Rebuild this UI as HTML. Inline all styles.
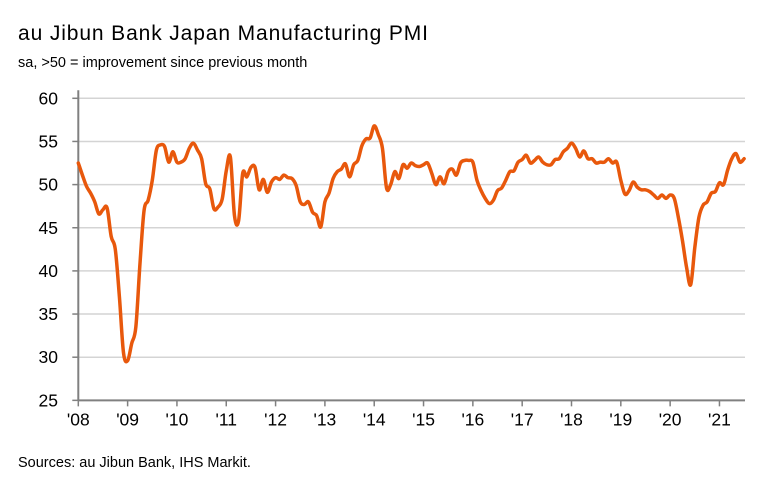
<!DOCTYPE html>
<html><head><meta charset="utf-8"><style>
body{margin:0;background:#fff;width:775px;height:485px;overflow:hidden;font-family:"Liberation Sans",sans-serif}
</style></head><body>
<svg id="chart" width="775" height="485">
<text x="18" y="40" font-size="21" fill="#000" textLength="410">au Jibun Bank Japan Manufacturing PMI</text>
<text x="18" y="67" font-size="14.5" fill="#000">sa, &gt;50 = improvement since previous month</text>
<text x="18" y="467" font-size="14.5" fill="#000">Sources: au Jibun Bank, IHS Markit.</text>
<g id="grid"></g><g id="axes"></g><g id="series"></g>
</svg>
<script>
const yTicks=[25,30,35,40,45,50,55,60];
const xLabels=["'08","'09","'10","'11","'12","'13","'14","'15","'16","'17","'18","'19","'20","'21"];
const pmi=[52.5,51.1,49.8,49.0,48.0,46.6,47.1,47.3,44.0,42.5,37.0,30.5,
29.6,31.6,33.5,40.8,47.0,48.2,50.5,54.0,54.6,54.4,52.6,53.8,
52.6,52.6,53.0,54.2,54.8,54.0,53.0,50.1,49.5,47.2,47.4,48.3,
51.6,53.2,46.4,45.8,51.3,50.9,52.0,52.0,49.4,50.6,49.1,50.3,
50.8,50.6,51.1,50.8,50.7,49.9,48.0,47.7,48.0,46.8,46.4,45.1,
48.0,49.0,50.7,51.5,51.8,52.4,50.9,52.3,52.8,54.5,55.3,55.4,
56.8,55.8,54.2,49.6,50.0,51.5,50.7,52.3,51.9,52.5,52.2,52.1,
52.3,52.5,51.3,50.0,50.9,50.1,51.5,51.8,51.1,52.5,52.8,52.8,
52.6,50.5,49.3,48.4,47.8,48.2,49.3,49.6,50.5,51.5,51.6,52.6,
52.9,53.4,52.5,52.8,53.2,52.6,52.3,52.3,52.9,53.0,53.8,54.2,
54.8,54.2,53.2,53.9,53.0,53.0,52.5,52.6,52.6,53.0,52.5,52.6,
50.5,48.9,49.3,50.3,49.7,49.4,49.4,49.2,48.8,48.4,48.8,48.4,
48.8,48.4,46.2,43.5,40.4,38.4,42.7,46.2,47.6,48.0,49.0,49.2,
50.2,50.0,51.7,53.0,53.6,52.6,53.0];
const NS="http://www.w3.org/2000/svg";
const X0=78.3,MW=4.11,Y60=98.3,PU=8.63,XR=745;
const xs=m=>X0+MW*m, ys=v=>Y60+(60-v)*PU;
function mk(t,a,p){const e=document.createElementNS(NS,t);for(const k in a)e.setAttribute(k,a[k]);p.appendChild(e);return e;}
const grid=document.getElementById('grid'),axes=document.getElementById('axes'),series=document.getElementById('series');
yTicks.forEach(v=>{
 if(v>25){const l=mk('line',{x1:X0,x2:XR,y1:ys(v),y2:ys(v),stroke:'#d4d4d4','stroke-width':1.5},grid);
 
 }
 const tk=mk('line',{x1:X0-6,x2:X0,y1:ys(v),y2:ys(v),stroke:'#808080','stroke-width':1.5},axes);
 
 
 const t=mk('text',{x:58,y:ys(v)+6,'font-size':17.5,'text-anchor':'end',fill:'#000'},axes);t.textContent=v;
 
 
});
const ya=mk('line',{x1:X0,x2:X0,y1:Y60-8,y2:ys(25),stroke:'#808080','stroke-width':2},axes);


const xa=mk('line',{x1:X0,x2:XR,y1:ys(25),y2:ys(25),stroke:'#808080','stroke-width':2},axes);


xLabels.forEach((s,i)=>{
 const x=xs(i*12);
 const tk=mk('line',{x1:x,x2:x,y1:ys(25),y2:ys(25)+6,stroke:'#808080','stroke-width':1.5},axes);
 
 
 const t=mk('text',{x:x,y:ys(25)+25,'font-size':17.5,'text-anchor':'middle',fill:'#000'},axes);t.textContent=s;
 
 
});
const pts=pmi.map((v,i)=>[xs(i),ys(v)]);
let d='M'+pts[0][0]+','+pts[0][1];
for(let i=0;i<pts.length-1;i++){const p0=pts[Math.max(i-1,0)],p1=pts[i],p2=pts[i+1],p3=pts[Math.min(i+2,pts.length-1)];
 d+=' C'+(p1[0]+(p2[0]-p0[0])/6)+','+(p1[1]+(p2[1]-p0[1])/6)+' '+(p2[0]-(p3[0]-p1[0])/6)+','+(p2[1]-(p3[1]-p1[1])/6)+' '+p2[0]+','+p2[1];}
const ln=mk('path',{d:d,fill:'none',stroke:'#e8580c','stroke-width':3.5,'stroke-linejoin':'round','stroke-linecap':'round'},series);


</script>
</body></html>
